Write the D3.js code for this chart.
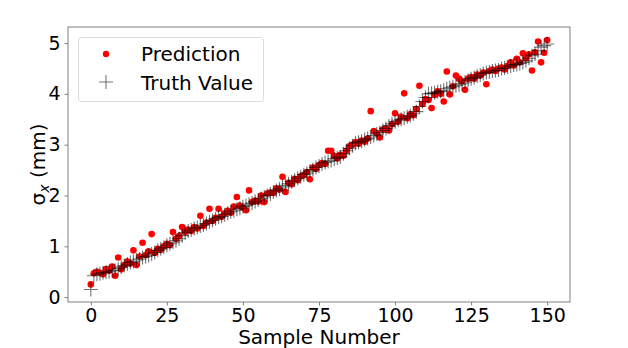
<!DOCTYPE html>
<html>
<head>
<meta charset="utf-8">
<script src="https://d3js.org/d3.v7.min.js"></script>
<style>
  body { margin: 0; background: #fff; }
  text { font-family: "DejaVu Sans", sans-serif; fill: #000; }
</style>
</head>
<body>
<svg width="628" height="348"></svg>
<script>
var truth = [0.15,0.42,0.45,0.46,0.48,0.49,0.50,0.52,0.53,0.56,
  0.59,0.62,0.65,0.68,0.70,0.73,0.75,0.78,0.80,0.82,
  0.85,0.88,0.92,0.95,0.98,1.02,1.05,1.08,1.11,1.15,
  1.21,1.27,1.30,1.32,1.35,1.37,1.40,1.42,1.45,1.48,
  1.51,1.54,1.57,1.59,1.62,1.65,1.68,1.70,1.73,1.75,
  1.78,1.80,1.83,1.85,1.88,1.91,1.94,1.97,2.00,2.03,
  2.07,2.10,2.13,2.17,2.20,2.23,2.27,2.30,2.34,2.37,
  2.41,2.44,2.48,2.51,2.55,2.58,2.62,2.65,2.67,2.69,
  2.72,2.74,2.76,2.82,2.88,2.93,2.98,3.03,3.05,3.07,
  3.10,3.12,3.15,3.18,3.21,3.24,3.28,3.32,3.37,3.41,
  3.45,3.48,3.50,3.52,3.55,3.57,3.61,3.65,3.75,3.85,
  3.93,4.00,4.01,4.02,4.04,4.05,4.07,4.10,4.12,4.14,
  4.16,4.18,4.20,4.23,4.27,4.30,4.32,4.35,4.37,4.40,
  4.42,4.43,4.45,4.46,4.47,4.50,4.51,4.53,4.55,4.57,
  4.58,4.60,4.62,4.65,4.70,4.75,4.78,4.85,4.92,4.95,
  4.98];

var prediction = [0.25,0.47,0.50,0.48,0.45,0.55,0.52,0.60,0.42,0.78,
  0.55,0.63,0.70,0.66,0.92,0.63,0.80,1.07,0.83,0.90,
  1.24,0.87,0.95,0.93,1.00,1.05,1.02,1.28,1.15,1.20,
  1.38,1.28,1.33,1.30,1.38,1.35,1.60,1.40,1.47,1.74,
  1.50,1.56,1.74,1.58,1.65,1.70,1.66,1.78,1.97,1.80,
  1.76,1.71,2.10,1.87,1.90,1.88,2.00,1.87,2.04,2.06,
  2.05,2.14,2.12,2.37,2.07,2.25,2.22,2.33,2.30,2.38,
  2.40,2.46,2.32,2.55,2.52,2.60,2.64,2.62,2.88,2.88,
  2.78,2.73,2.80,2.78,2.88,2.97,3.00,3.05,3.02,3.08,
  3.06,3.12,3.66,3.27,3.22,3.14,3.30,3.32,3.28,3.40,
  3.62,3.45,3.55,4.01,3.52,3.60,3.58,3.70,4.16,3.80,
  3.90,3.88,3.72,3.98,4.05,4.00,3.85,4.44,3.99,4.15,
  4.36,4.30,4.25,4.08,4.30,4.33,4.30,4.38,4.36,4.42,
  4.19,4.45,4.48,4.45,4.50,4.52,4.48,4.55,4.62,4.56,
  4.69,4.62,4.80,4.70,4.78,4.46,4.82,5.03,4.62,4.81,
  5.06];

var xTicks = [0, 25, 50, 75, 100, 125, 150];
var yTicks = [0, 1, 2, 3, 4, 5];
var legendLabels = ["Prediction", "Truth Value"];

var svg = d3.select("svg");
var plotL = 68, plotR = 570, plotT = 27, plotB = 302;

var x = d3.scaleLinear().domain([-7.5, 157.5]).range([plotL, plotR]);
var y = d3.scaleLinear().domain([-0.096, 5.316]).range([plotB, plotT]);

// predictions (red dots)
svg.append("g").selectAll("circle")
  .data(prediction).enter().append("circle")
  .attr("cx", function(d, i) { return x(i); })
  .attr("cy", function(d) { return y(d); })
  .attr("r", 3.3)
  .attr("fill", "#ff0000");

// truth (+ markers), drawn on top
function plusPath(s) {
  return "M" + (-s) + ",0H" + s + "M0," + (-s) + "V" + s;
}
svg.append("g").selectAll("path")
  .data(truth).enter().append("path")
  .attr("transform", function(d, i) { return "translate(" + x(i) + "," + y(d) + ")"; })
  .attr("d", plusPath(7))
  .attr("stroke", "#000")
  .attr("stroke-opacity", 0.55)
  .attr("stroke-width", 1.1)
  .attr("fill", "none");

// axes
var xAxis = svg.append("g")
  .attr("transform", "translate(0," + plotB + ")")
  .call(d3.axisBottom(x).tickValues(xTicks).tickFormat(d3.format("d"))
    .tickSizeOuter(0).tickSize(3.5).tickPadding(3));
var yAxis = svg.append("g")
  .attr("transform", "translate(" + plotL + ",0)")
  .call(d3.axisLeft(y).tickValues(yTicks).tickFormat(d3.format("d"))
    .tickSizeOuter(0).tickSize(3.5).tickPadding(4));
[xAxis, yAxis].forEach(function(a) {
  a.select(".domain").remove();
  a.selectAll("line").attr("stroke", "#808080");
  a.selectAll("text").style("font-size", "19px").attr("fill", "#000");
});

svg.append("rect")
  .attr("x", plotL).attr("y", plotT)
  .attr("width", plotR - plotL).attr("height", plotB - plotT)
  .attr("fill", "none").attr("stroke", "#808080").attr("stroke-width", 1);

// axis labels
svg.append("text")
  .attr("x", (plotL + plotR) / 2).attr("y", 344)
  .attr("text-anchor", "middle")
  .style("font-size", "20px")
  .text("Sample Number");

var yl = svg.append("text")
  .attr("transform", "translate(45," + ((plotT + plotB) / 2) + ") rotate(-90)")
  .attr("text-anchor", "middle")
  .style("font-size", "20px");
yl.append("tspan").text("σ");
yl.append("tspan").attr("dy", 4).style("font-size", "14px").style("font-style", "italic").text("x");
yl.append("tspan").attr("dy", -4).text(" (mm)");

// legend
var lg = svg.append("g");
lg.append("rect")
  .attr("x", 78.5).attr("y", 37.5).attr("width", 185).attr("height", 64)
  .attr("rx", 3).attr("fill", "#fff").attr("fill-opacity", 0.8)
  .attr("stroke", "#dcdcdc");
lg.append("circle").attr("cx", 106).attr("cy", 54).attr("r", 3.2).attr("fill", "#ff0000");
lg.append("path").attr("transform", "translate(106,82)").attr("d", plusPath(7))
  .attr("stroke", "#000").attr("stroke-opacity", 0.55).attr("stroke-width", 1.1);
lg.selectAll("text.leg").data(legendLabels).enter().append("text")
  .attr("class", "leg")
  .attr("x", 141)
  .attr("y", function(d, i) { return 61 + i * 29; })
  .style("font-size", "20px")
  .text(function(d) { return d; });
</script>
</body>
</html>
